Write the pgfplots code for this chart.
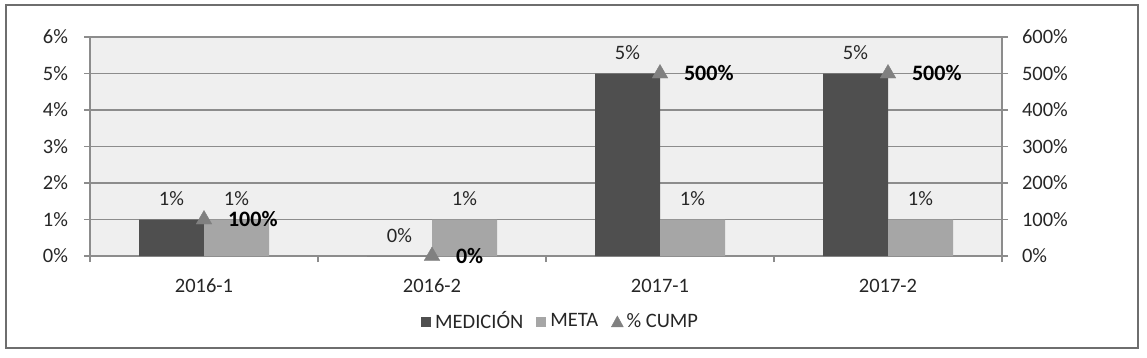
\documentclass[border=0pt]{standalone}
\usepackage{pgfplots}
\pgfplotsset{compat=1.18}
\usepackage{fontspec}
\setmainfont{Carlito}
\definecolor{darkbar}{HTML}{4F4F4F}
\definecolor{lightbar}{HTML}{A6A6A6}
\definecolor{tri}{HTML}{808080}
\definecolor{bgc}{HTML}{EFEFEF}
\definecolor{gridc}{HTML}{8C8C8C}
\definecolor{txt}{HTML}{262626}
\definecolor{framec}{HTML}{6E6E6E}
\newcommand{\fs}{\fontsize{20.5}{24}\selectfont}
\newcommand{\fb}{\fontsize{22}{26}\selectfont}
\begin{document}
\fs
\begin{tikzpicture}[x=1pt,y=1pt]
\useasboundingbox (0,0) rectangle (1147,357);
\draw[color=framec, line width=1.3pt] (6,9) rectangle (1138,352);
\begin{axis}[
  at={(90pt,101pt)}, anchor=south west,
  scale only axis, width=912pt, height=219pt,
  xmin=-0.5, xmax=3.5, ymin=0, ymax=6,
  axis background/.style={fill=bgc},
  ybar=0pt, bar width=65pt,
  xtick={-0.5,0.5,1.5,2.5,3.5},
  x tick label as interval,
  xticklabels={2016-1,2016-2,2017-1,2017-2},
  ytick={0,1,2,3,4,5,6},
  yticklabels={0\%,1\%,2\%,3\%,4\%,5\%,6\%},
  axis x line*=bottom, axis y line*=left,
  axis line style={draw=gridc, line width=1.2pt},
  tick align=outside, major tick length=6pt,
  tick style={draw=gridc, line width=1.2pt},
  ymajorgrids, grid style={draw=gridc, line width=1.2pt},
  ticklabel style={font=\fs, text=txt},
  yticklabel style={xshift=-9pt},
  xticklabel style={yshift=-10pt},
  clip=false,
  nodes near coords,
  point meta=explicit symbolic,
  every node near coord/.append style={anchor=center, yshift=20.5pt, font=\fs, text=txt},
  legend style={draw=none, fill=none, legend columns=3, at={(0.516,-0.301)}, anchor=center,
    font=\fs, text=txt,
    /tikz/every even column/.append style={column sep=11pt}},
]
\addplot[fill=darkbar, draw=none,
  legend image code/.code={\fill[darkbar] (0pt,-5pt) rectangle (10pt,5pt); \path (12pt,0);}]
  coordinates {(0,1) [1\%] (1,0) [0\%] (2,5) [5\%] (3,5) [5\%]};
\addlegendentry{MEDICIÓN}
\addplot[fill=lightbar, draw=none,
  legend image code/.code={\fill[lightbar] (0pt,-5pt) rectangle (10pt,5pt); \path (12pt,0);}]
  coordinates {(0,1) [1\%] (1,1) [1\%] (2,1) [1\%] (3,1) [1\%]};
\addlegendentry{META}
\addlegendimage{legend image code/.code={\fill[tri] (0pt,-5pt) -- (12pt,-5pt) -- (6pt,6pt) -- cycle; \path (13pt,0);}}
\addlegendentry{\% CUMP}
\end{axis}
\begin{axis}[
  at={(90pt,101pt)}, anchor=south west,
  scale only axis, width=912pt, height=219pt,
  xmin=-0.5, xmax=3.5, ymin=0, ymax=600,
  axis x line=none, axis y line*=right,
  ytick={0,100,200,300,400,500,600},
  yticklabels={0\%,100\%,200\%,300\%,400\%,500\%,600\%},
  axis line style={draw=gridc, line width=1.2pt},
  tick align=outside, major tick length=6pt,
  tick style={draw=gridc, line width=1.2pt},
  ticklabel style={font=\fs, text=txt},
  yticklabel style={xshift=7pt},
  clip=false,
  nodes near coords,
  point meta=explicit symbolic,
  every node near coord/.append style={anchor=west, xshift=17pt, font=\bfseries\fb, text=black},
]
\addplot[only marks, mark=triangle*, mark size=9pt, color=tri]
  coordinates {(0,100) [100\%] (1,0) [0\%] (2,500) [500\%] (3,500) [500\%]};
\end{axis}
\end{tikzpicture}
\end{document}
